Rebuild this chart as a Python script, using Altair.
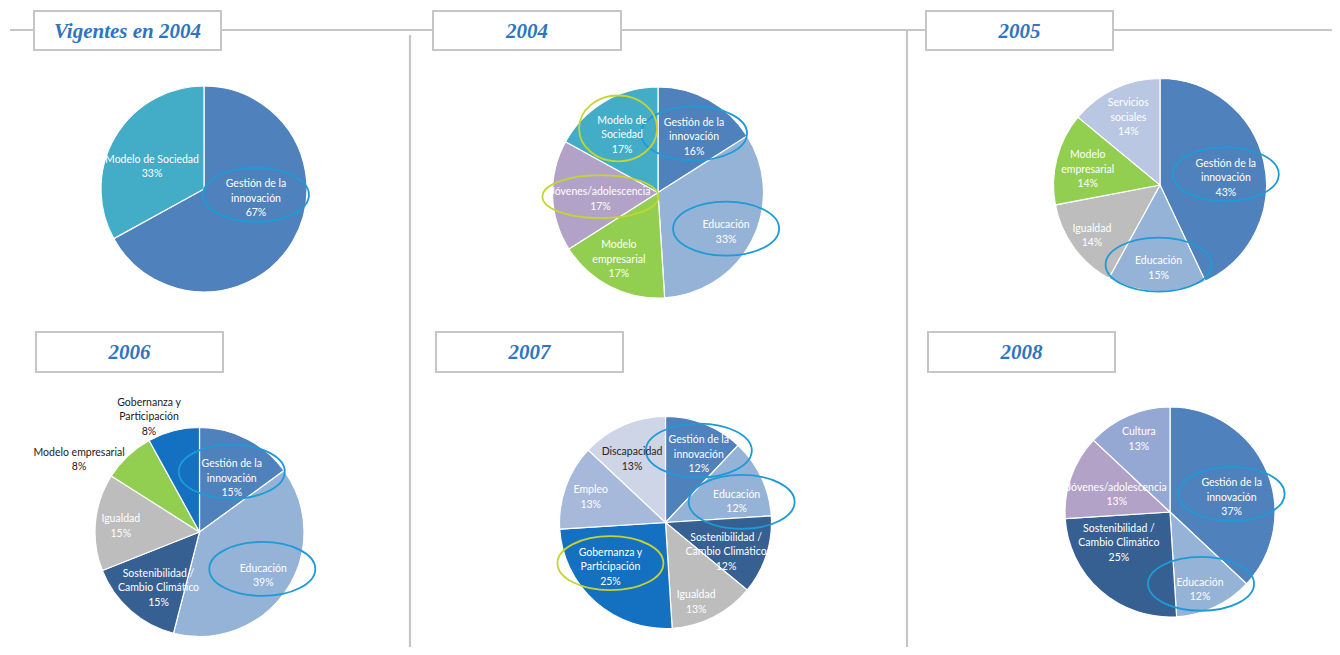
import altair as alt
import pandas as pd

# ---------------- data ----------------
pies = ["Vigentes en 2004", "2004", "2005", "2006", "2007", "2008"]

cats_vig = ["Gestión de la innovación", "Modelo de Sociedad"]
pct_vig = [67, 33]

cats_2004 = ["Gestión de la innovación", "Educación", "Modelo empresarial",
             "Jóvenes/adolescencia", "Modelo de Sociedad"]
pct_2004 = [16, 33, 17, 17, 17]

cats_2005 = ["Gestión de la innovación", "Educación", "Igualdad",
             "Modelo empresarial", "Servicios sociales"]
pct_2005 = [43, 15, 14, 14, 14]

cats_2006 = ["Gestión de la innovación", "Educación", "Sostenibilidad / Cambio Climático",
             "Igualdad", "Modelo empresarial", "Gobernanza y Participación"]
pct_2006 = [15, 39, 15, 15, 8, 8]

cats_2007 = ["Gestión de la innovación", "Educación", "Sostenibilidad / Cambio Climático",
             "Igualdad", "Gobernanza y Participación", "Empleo", "Discapacidad"]
pct_2007 = [12, 12, 12, 13, 25, 13, 13]

cats_2008 = ["Gestión de la innovación", "Educación", "Sostenibilidad / Cambio Climático",
             "Jóvenes/adolescencia", "Cultura"]
pct_2008 = [37, 12, 25, 13, 13]

# highlighted labels (circled in the original)
hl_vig = {"Gestión de la innovación": "azul"}
hl_2004 = {"Gestión de la innovación": "azul", "Educación": "azul",
           "Jóvenes/adolescencia": "verde", "Modelo de Sociedad": "verde"}
hl_2005 = {"Gestión de la innovación": "azul", "Educación": "azul"}
hl_2006 = {"Gestión de la innovación": "azul", "Educación": "azul"}
hl_2007 = {"Gestión de la innovación": "azul", "Educación": "azul",
           "Gobernanza y Participación": "verde"}
hl_2008 = {"Gestión de la innovación": "azul", "Educación": "azul"}

# label text with line breaks
wrapped = {
    "Gestión de la innovación": "Gestión de la\ninnovación",
    "Modelo de Sociedad": "Modelo de\nSociedad",
    "Modelo empresarial": "Modelo\nempresarial",
    "Servicios sociales": "Servicios\nsociales",
    "Sostenibilidad / Cambio Climático": "Sostenibilidad /\nCambio Climático",
    "Gobernanza y Participación": "Gobernanza y\nParticipación",
}
wrapped_override = {
    ("Vigentes en 2004", "Modelo de Sociedad"): "Modelo de Sociedad",
    ("2006", "Modelo empresarial"): "Modelo empresarial",
}

series = {
    "Vigentes en 2004": (cats_vig, pct_vig, hl_vig),
    "2004": (cats_2004, pct_2004, hl_2004),
    "2005": (cats_2005, pct_2005, hl_2005),
    "2006": (cats_2006, pct_2006, hl_2006),
    "2007": (cats_2007, pct_2007, hl_2007),
    "2008": (cats_2008, pct_2008, hl_2008),
}

rows = []
for p in pies:
    cats, pcts, hl = series[p]
    for i, (c, v) in enumerate(zip(cats, pcts)):
        name = wrapped_override.get((p, c), wrapped.get(c, c))
        rows.append({"pie": p, "cat": c, "pct": v, "orden": i,
                     "label": f"{name}\n{v}%", "hl": hl.get(c, "")})
df = pd.DataFrame(rows)

# ---------------- style / layout ----------------
categories = ["Gestión de la innovación", "Educación", "Modelo de Sociedad",
              "Jóvenes/adolescencia", "Modelo empresarial", "Servicios sociales",
              "Igualdad", "Sostenibilidad / Cambio Climático", "Gobernanza y Participación",
              "Empleo", "Discapacidad", "Cultura"]
palette = ["#4F81BD", "#95B3D7", "#43ACC7", "#B3A2C7", "#92CF50", "#B9C7E3",
           "#BDBDBD", "#376092", "#1470C0", "#A7B9DB", "#CDD5E6", "#95A8D3"]
color_scale = alt.Scale(domain=categories, range=palette)

OFF = 8  # page margin
layout = {
    "Vigentes en 2004": dict(cx=204, cy=189, r=103, lr=0.53, box=(34, 221, 11, 50)),
    "2004": dict(cx=658, cy=192.5, r=105.5, lr=0.65, box=(433, 621, 11, 50)),
    "2005": dict(cx=1160, cy=185, r=106.5, lr=0.72, box=(926, 1113, 11, 50)),
    "2006": dict(cx=199.5, cy=532, r=104.5, lr=0.68, box=(36, 223, 332, 372)),
    "2007": dict(cx=665.5, cy=522.5, r=106, lr=0.70, box=(436, 623, 332, 372)),
    "2008": dict(cx=1170, cy=512, r=105, lr=0.65, box=(928, 1115, 332, 372)),
}
# label fine placement (pixel offsets from the slice mid-angle position)
nudge = {
    ("Vigentes en 2004", "Gestión de la innovación"): (5, -18),
    ("Vigentes en 2004", "Modelo de Sociedad"): (-5, 6),
    ("2004", "Gestión de la innovación"): (3, 5),
    ("2004", "Educación"): (7, 9),
    ("2004", "Modelo empresarial"): (-8, 6),
    ("2004", "Jóvenes/adolescencia"): (11, 5),
    ("2004", "Modelo de Sociedad"): (-1, 2),
    ("2005", "Gestión de la innovación"): (-9, 10),
    ("2005", "Educación"): (1, 7),
    ("2005", "Igualdad"): (-6, 6),
    ("2005", "Modelo empresarial"): (2, 4),
    ("2005", "Servicios sociales"): (1, 2),
    ("2006", "Gestión de la innovación"): (0, 10),
    ("2006", "Educación"): (5, 4),
    ("2006", "Sostenibilidad / Cambio Climático"): (6, 3),
    ("2006", "Igualdad"): (-8, 1),
    ("2006", "Modelo empresarial"): (-31, 23),
    ("2006", "Gobernanza y Participación"): (-18, 12),
    ("2007", "Gestión de la innovación"): (6, 1),
    ("2007", "Educación"): (4, 11),
    ("2007", "Sostenibilidad / Cambio Climático"): (-10, 7),
    ("2007", "Igualdad"): (-3, 14),
    ("2007", "Gobernanza y Participación"): (-6, -11),
    ("2007", "Empleo"): (-5, 0),
    ("2007", "Discapacidad"): (-4, 5),
    ("2008", "Gestión de la innovación"): (-1, 13),
    ("2008", "Educación"): (1, 16),
    ("2008", "Sostenibilidad / Cambio Climático"): (-6, -20),
    ("2008", "Jóvenes/adolescencia"): (11, 6),
    ("2008", "Cultura"): (-4, -10),
}
outside_radius = {("2006", "Modelo empresarial"): 1.25,
                  ("2006", "Gobernanza y Participación"): 1.25}
dark_labels = {("2007", "Discapacidad"): "#262626",
               ("2006", "Modelo empresarial"): "#1a1a1a",
               ("2006", "Gobernanza y Participación"): "#1a1a1a"}
# ellipse geometry: width, height, offset from label centre
ellipse_geom = {
    ("2004", "Modelo de Sociedad"): (78, 66, -4, -7),
    ("2004", "Jóvenes/adolescencia"): (116, 43, 0, -3),
    ("2006", "Gestión de la innovación"): (106, 54, 0, -7),
    ("2006", "Educación"): (106, 54, -1, -7),
    ("2007", "Educación"): (106, 54, 5, 0),
    ("2008", "Educación"): (106, 54, 1, -6),
}
ELL_DEFAULT = (106, 54, 0, -4)
ELL_COLORS = {"azul": "#1E9BD7", "verde": "#C5D431"}

LINE_C = "#C6C6C6"
TITLE_C = "#2F74C0"
FONT = "Lato"
FSIZE = 10.5
LH = 14.5

one = pd.DataFrame({"k": [0]})
layers = []

# separator lines
layers.append(alt.Chart(one).mark_rule(color=LINE_C, strokeWidth=2.2).encode(
    x=alt.value(10 - OFF), x2=alt.value(1340 - OFF), y=alt.value(30 - OFF)))
layers.append(alt.Chart(one).mark_rule(color=LINE_C, strokeWidth=2.2).encode(
    x=alt.value(410 - OFF), y=alt.value(35 - OFF), y2=alt.value(655 - OFF)))
layers.append(alt.Chart(one).mark_rule(color=LINE_C, strokeWidth=2.2).encode(
    x=alt.value(907 - OFF), y=alt.value(30 - OFF), y2=alt.value(655 - OFF)))

for p in pies:
    L = layout[p]
    cx, cy, r = L["cx"] - OFF, L["cy"] - OFF, L["r"]
    x0, x1, y0, y1 = [v - OFF for v in L["box"]]

    # title box
    layers.append(alt.Chart(one).mark_rect(fill="white", stroke=LINE_C, strokeWidth=2).encode(
        x=alt.value(x0), x2=alt.value(x1), y=alt.value(y0), y2=alt.value(y1)))
    layers.append(alt.Chart(pd.DataFrame({"titulo": [p]})).mark_text(
        font="Liberation Serif", fontSize=21, fontWeight="bold", fontStyle="italic",
        color=TITLE_C, align="center", baseline="middle").encode(
        text="titulo:N", x=alt.value((x0 + x1) / 2), y=alt.value((y0 + y1) / 2 + 1)))

    base = alt.Chart(df).transform_filter(alt.datum.pie == p)

    # slices
    layers.append(base.mark_arc(radius=r, stroke="white", strokeWidth=1.2).encode(
        theta=alt.Theta("pct:Q", stack=True),
        color=alt.Color("cat:N", scale=color_scale, legend=None),
        order=alt.Order("orden:Q"),
        x=alt.value(cx), y=alt.value(cy)))

    cats, pcts, hl = series[p]
    for c in cats:
        key = (p, c)
        lab = df[(df.pie == p) & (df.cat == c)].label.iloc[0]
        nlines = lab.count("\n") + 1
        nx, ny = nudge.get(key, (0, 0))
        rad = outside_radius.get(key, L["lr"]) * r
        col = dark_labels.get(key, "white")
        # label (stack computed on the whole pie, only this slice's text shown)
        layers.append(base.transform_calculate(
            txt=f"datum.cat == '{c}' ? datum.label : ''").mark_text(
            radius=rad, font=FONT, fontSize=FSIZE, lineBreak="\n", lineHeight=LH,
            align="center", baseline="middle", color=col,
            dx=nx, dy=ny - (nlines - 1) * LH / 2).encode(
            theta=alt.Theta("pct:Q", stack=True),
            detail="cat:N",
            order=alt.Order("orden:Q"),
            text="txt:N",
            x=alt.value(cx), y=alt.value(cy)))

        # highlight ellipse
        if hl.get(c):
            w, h, ox, oy = ellipse_geom.get(key, ELL_DEFAULT)
            k = h / w
            shape = f"M-1,0A1,{k:.3f},0,1,1,1,0A1,{k:.3f},0,1,1,-1,0Z"
            layers.append(base.transform_joinaggregate(total="sum(pct)").transform_window(
                cum="sum(pct)", sort=[alt.SortField("orden")], frame=[None, 0]
            ).transform_calculate(
                mid="(datum.cum - datum.pct / 2) / datum.total * 2 * PI"
            ).transform_calculate(
                px=f"{cx} + {rad} * sin(datum.mid) + {nx + ox}",
                py=f"{cy} - {rad} * cos(datum.mid) + {ny + oy}"
            ).transform_filter(f"datum.cat == '{c}'").mark_point(
                shape=shape, size=w * w, filled=False, strokeWidth=1.8, opacity=1,
                stroke=ELL_COLORS[hl[c]]).encode(
                x=alt.X("px:Q", scale=None, axis=None),
                y=alt.Y("py:Q", scale=None, axis=None)))

chart = alt.layer(*layers).resolve_scale(theta="independent").properties(
    width=1340 - 2 * OFF, height=655 - 2 * OFF, padding=0, autosize="none"
).configure_view(stroke=None)

chart.save("out.html", embed_options={"renderer": "svg", "actions": False})
